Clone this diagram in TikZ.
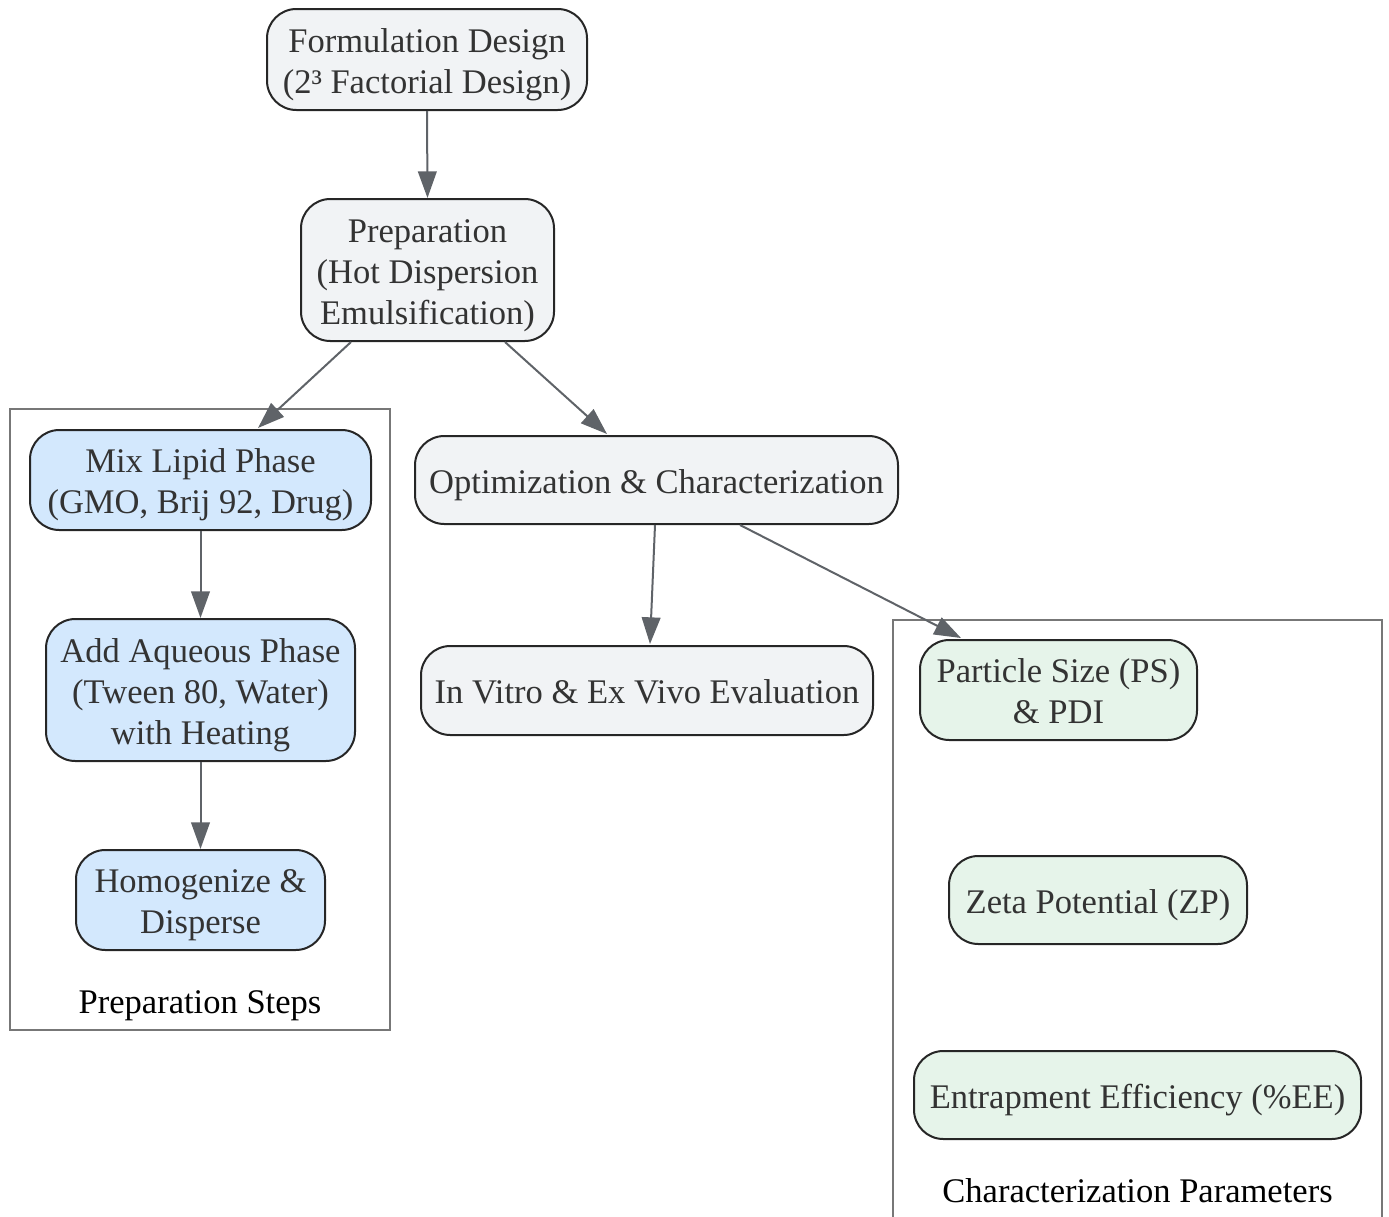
\documentclass[tikz,border=0pt]{standalone}
\usepackage{fontspec}
\setmainfont{Liberation Serif}
\usetikzlibrary{arrows.meta,calc}
\definecolor{gfill}{HTML}{F1F3F5}
\definecolor{bfill}{HTML}{D3E8FD}
\definecolor{hfill}{HTML}{E6F4EA}
\definecolor{edgec}{HTML}{5F6368}
\definecolor{clc}{HTML}{777777}
\definecolor{txt}{HTML}{333333}
\newcommand\mltext[1]{\vbox{\kern7.4pt\hbox{\begin{tabular}{@{}c@{}}#1\end{tabular}}}}
\begin{document}
\begin{tikzpicture}[x=0.75pt,y=-0.75pt,
  box/.style={draw=black!85,line width=1.5pt,rounded corners=22pt,
    text=txt,inner sep=0pt,font=\fontsize{25.9pt}{30.75pt}\selectfont},
  gbox/.style={box,fill=gfill},
  bbox/.style={box,fill=bfill},
  hbox/.style={box,fill=hfill},
  conn/.style={draw=edgec,line width=1.5pt,-{Triangle[length=20pt,width=14pt]}},
  cluster/.style={draw=clc,line width=1.5pt},
  cltext/.style={text=black,font=\fontsize{25.9pt}{30.75pt}\selectfont}]
\useasboundingbox (0,0) rectangle (1389,1217);
\clip (0,0) rectangle (1389,1217);
% clusters
\draw[cluster] (10,409) rectangle (390,1030);
\node[cltext] (cl1) at (200,1006) {Preparation Steps};
\draw[cluster] (893,1240) -- (893,620) -- (1382,620) -- (1382,1240);
\node[cltext] (cl2) at (1137.5,1191) {Characterization Parameters};
% nodes
\node[gbox,minimum width=320*0.75pt,minimum height=101*0.75pt] (A) at (427,59.5) {\mltext{Formulation Design\\(2³ Factorial Design)}};
\node[gbox,minimum width=253*0.75pt,minimum height=142*0.75pt] (B) at (427.5,270) {\mltext{Preparation\\(Hot Dispersion\\Emulsification)}};
\node[bbox,minimum width=341*0.75pt,minimum height=100*0.75pt] (C) at (200.5,480) {\mltext{Mix Lipid Phase\\(GMO, Brij 92, Drug)}};
\node[bbox,minimum width=309*0.75pt,minimum height=142*0.75pt] (D) at (200.5,690) {\mltext{Add Aqueous Phase\\(Tween 80, Water)\\with Heating}};
\node[bbox,minimum width=249*0.75pt,minimum height=100*0.75pt] (E) at (200.5,900) {\mltext{Homogenize \&\\Disperse}};
\node[gbox,minimum width=483*0.75pt,minimum height=88*0.75pt] (F) at (656.5,480) {\mltext{Optimization \& Characterization}};
\node[gbox,minimum width=452*0.75pt,minimum height=89*0.75pt] (G) at (647,690.5) {\mltext{In Vitro \& Ex Vivo Evaluation}};
\node[hbox,minimum width=277*0.75pt,minimum height=100*0.75pt] (H) at (1058.5,690) {\mltext{Particle Size (PS)\\\& PDI}};
\node[hbox,minimum width=298*0.75pt,minimum height=88*0.75pt] (I) at (1098,900) {\mltext{Zeta Potential (ZP)}};
\node[hbox,minimum width=447*0.75pt,minimum height=88*0.75pt] (J) at (1137.5,1095) {\mltext{Entrapment Efficiency (\%EE)}};
% connectors
\draw[conn] (A.south) -- (B.north);
\draw[conn] ($(B.south)+(-76.5,0)$) -- ($(C.north)+(57.5,-1)$);
\draw[conn] ($(B.south)+(77.5,0)$) -- ($(F.north)+(-49.5,-1)$);
\draw[conn] (C.south) -- (D.north);
\draw[conn] (D.south) -- (E.north);
\draw[conn] ($(F.south)+(-1.5,0)$) -- ($(G.north)+(3,-1)$);
\draw[conn] ($(F.south)+(83.5,0)$) -- ($(H.north)+(-97.5,-1)$);
\end{tikzpicture}
\end{document}
